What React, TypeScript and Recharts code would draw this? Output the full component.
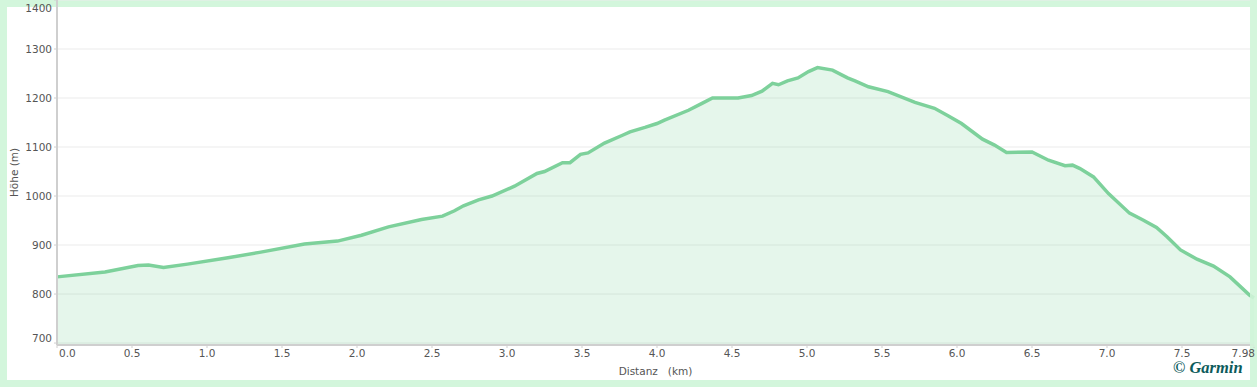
import { AreaChart, Area, CartesianGrid, XAxis, YAxis, Label } from 'recharts'

const distKm = [
  0, 0.32, 0.54, 0.61, 0.71, 0.87, 1.14, 1.35, 1.65, 1.87, 2.03, 2.21, 2.43, 2.57, 2.65, 2.71,
  2.81, 2.9, 3.05, 3.2, 3.25, 3.37, 3.42, 3.49, 3.54, 3.65, 3.77, 3.82, 3.92, 4.0, 4.05, 4.21,
  4.3, 4.37, 4.54, 4.63, 4.7, 4.77, 4.81, 4.87, 4.94, 5.01, 5.07, 5.17, 5.27, 5.32, 5.41, 5.54,
  5.72, 5.85, 5.94, 6.03, 6.17, 6.25, 6.33, 6.5, 6.61, 6.72, 6.77, 6.82, 6.91, 7.01, 7.15, 7.24,
  7.33, 7.4, 7.49, 7.6, 7.71, 7.82, 7.95, 7.98,
]

const elevM = [
  835, 845, 858, 859, 854, 861, 874, 885, 902, 908, 920, 937, 952, 959, 970, 980,
  992, 1000, 1020, 1046, 1050, 1068, 1068, 1085, 1088, 1108, 1124, 1131, 1140, 1148, 1155, 1175,
  1189, 1200, 1200, 1205, 1214, 1230, 1227, 1235, 1241, 1254, 1262, 1257, 1241, 1235, 1223, 1213,
  1191, 1179, 1164, 1148, 1116, 1104, 1089, 1090, 1073, 1062, 1063, 1056, 1039, 1005, 965, 951,
  936, 917, 890, 871, 857, 835, 798, 792,
]

const xTicks = [0, 0.5, 1, 1.5, 2, 2.5, 3, 3.5, 4, 4.5, 5, 5.5, 6, 6.5, 7, 7.5, 7.98]
const yTicks = [700, 800, 900, 1000, 1100, 1200, 1300, 1400]

const data = distKm.map((d, i) => ({ km: d, elev: elevM[i] }))

const tickFont = { fontFamily: 'DejaVu Sans, Verdana, sans-serif', fontSize: 10.5, fill: '#555555' }

function XTick(props: any) {
  const { x, y, payload, index } = props
  const v: number = payload.value
  const text = v === 7.98 ? '7.98' : v.toFixed(1)
  let anchor: 'middle' | 'start' | 'end' = 'middle'
  let tx = x
  if (index === 0) {
    anchor = 'start'
    tx = x + 2
  } else if (v === 7.98) {
    anchor = 'end'
    tx = x + 1
  }
  return (
    <text x={tx} y={y} dy="0.71em" textAnchor={anchor} {...tickFont}>
      {text}
    </text>
  )
}

function YTick(props: any) {
  const { x, y, payload } = props
  const ty = Math.min(Math.max(y, 8), 338)
  return (
    <text x={x} y={ty} dy="0.355em" textAnchor="end" {...tickFont}>
      {payload.value}
    </text>
  )
}

export default function App() {
  return (
    <div
      style={{
        position: 'absolute',
        left: 0,
        top: 0,
        width: 1257,
        height: 387,
        background: '#d3f6dc',
        overflow: 'hidden',
      }}
    >
      <div
        style={{
          position: 'absolute',
          left: 7,
          top: 7,
          width: 1243,
          height: 373,
          background: '#ffffff',
        }}
      />
      <div style={{ position: 'absolute', left: 0, top: 0 }}>
        <AreaChart
          width={1257}
          height={387}
          data={data}
          margin={{ top: 0, right: 3, bottom: 0, left: 0 }}
        >
          <CartesianGrid vertical={false} stroke="#ebebeb" />
          <XAxis
            dataKey="km"
            type="number"
            domain={[0, 7.98]}
            ticks={xTicks}
            height={42}
            tickSize={3}
            tickMargin={2}
            axisLine={{ stroke: '#cfcfcf', strokeWidth: 2 }}
            tickLine={{ stroke: '#cfcfcf' }}
            tick={<XTick />}
            interval={0}
          >
            <Label
              position="insideBottom"
              offset={10}
              content={(p: any) => {
                const vb = p.viewBox
                return (
                  <text
                    x={vb.x + vb.width / 2}
                    y={371}
                    dy="0.355em"
                    textAnchor="middle"
                    style={{ whiteSpace: 'pre' }}
                    {...tickFont}
                  >
                    {'Distanz   (km)'}
                  </text>
                )
              }}
            />
          </XAxis>
          <YAxis
            type="number"
            domain={[696, 1400]}
            ticks={yTicks}
            width={57}
            tickSize={3}
            tickMargin={2}
            axisLine={{ stroke: '#cfcfcf', strokeWidth: 2 }}
            tickLine={{ stroke: '#cfcfcf' }}
            tick={<YTick />}
            interval={0}
            allowDataOverflow
          >
            <Label
              content={(p: any) => {
                const vb = p.viewBox
                const cy = vb.y + vb.height / 2
                return (
                  <text
                    x={14}
                    y={cy}
                    dy="0.355em"
                    textAnchor="middle"
                    transform={`rotate(-90 14 ${cy})`}
                    {...tickFont}
                  >
                    Höhe (m)
                  </text>
                )
              }}
            />
          </YAxis>
          <Area
            type="linear"
            dataKey="elev"
            stroke="#7dd19b"
            strokeWidth={3.5}
            fill="#7fd39a"
            fillOpacity={0.2}
            isAnimationActive={false}
          />
        </AreaChart>
      </div>
      <div
        style={{
          position: 'absolute',
          left: 1250,
          top: 0,
          width: 7,
          height: 347,
          background: '#d3f6dc',
          opacity: 0.85,
        }}
      />
      <div
        style={{
          position: 'absolute',
          left: 1173,
          top: 358,
          fontFamily: '"Liberation Serif", serif',
          fontStyle: 'italic',
          fontWeight: 700,
          fontSize: 16.5,
          color: '#0d5b5b',
          lineHeight: '20px',
          whiteSpace: 'nowrap',
        }}
      >
        © Garmin
      </div>
    </div>
  )
}
